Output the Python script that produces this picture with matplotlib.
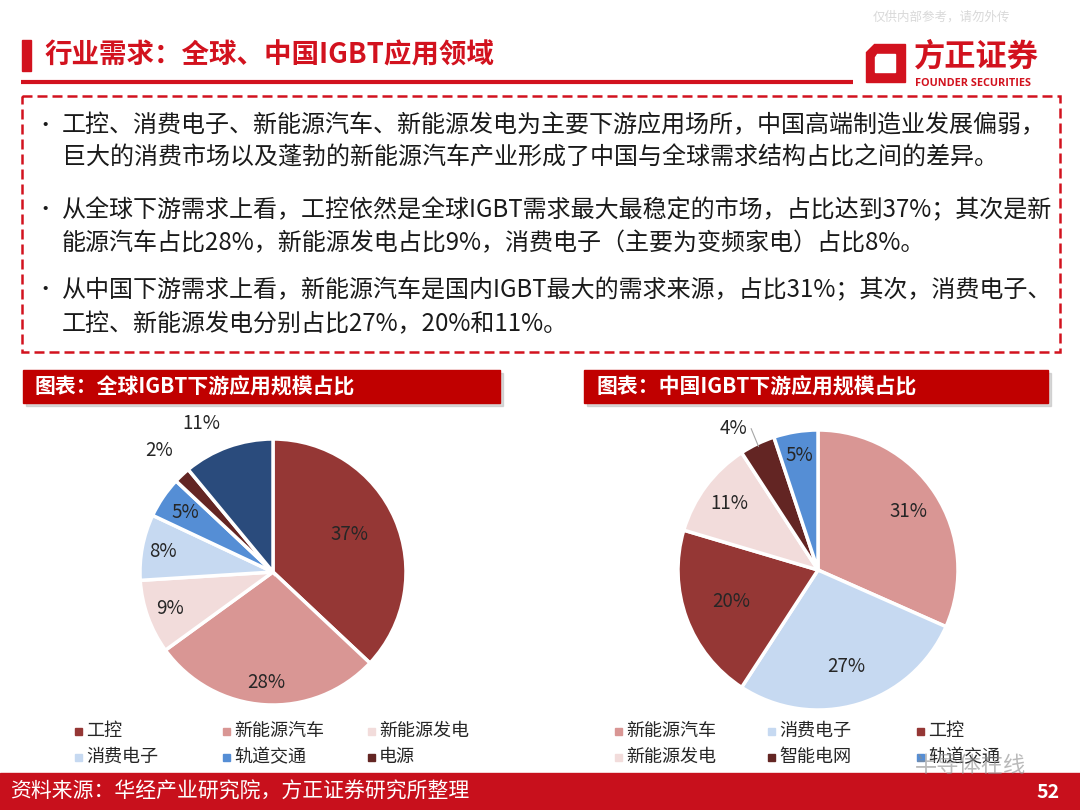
import numpy as np
import matplotlib
matplotlib.use('Agg')
import matplotlib.pyplot as plt
from matplotlib.patches import Rectangle, Polygon

plt.rcParams['font.family'] = ['Noto Sans CJK SC', 'DejaVu Sans']

#Data
globalNames = ['工控', '新能源汽车', '新能源发电', '消费电子', '轨道交通', '电源', '其他']
globalShares = [37, 28, 9, 8, 5, 2, 11]
globalLabels = ['37%', '28%', '9%', '8%', '5%', '2%', '11%']
chinaNames = ['新能源汽车', '消费电子', '工控', '新能源发电', '智能电网', '轨道交通']
chinaShares = [31, 27, 20, 11, 4, 5]
chinaLabels = ['31%', '27%', '20%', '11%', '4%', '5%']

#Colors per category
colorOf = {'工控': '#953735', '新能源汽车': '#D99694', '新能源发电': '#F2DCDB',
           '消费电子': '#C6D9F1', '轨道交通': '#558ED5', '电源': '#632523',
           '智能电网': '#632523', '其他': '#2A4B7C'}

titleText = '行业需求：全球、中国IGBT应用领域'
bullets = [
    ['工控、消费电子、新能源汽车、新能源发电为主要下游应用场所，中国高端制造业发展偏弱，',
     '巨大的消费市场以及蓬勃的新能源汽车产业形成了中国与全球需求结构占比之间的差异。'],
    ['从全球下游需求上看，工控依然是全球IGBT需求最大最稳定的市场，占比达到37%；其次是新',
     '能源汽车占比28%，新能源发电占比9%，消费电子（主要为变频家电）占比8%。'],
    ['从中国下游需求上看，新能源汽车是国内IGBT最大的需求来源，占比31%；其次，消费电子、',
     '工控、新能源发电分别占比27%，20%和11%。'],
]
leftTitle = '图表：全球IGBT下游应用规模占比'
rightTitle = '图表：中国IGBT下游应用规模占比'
sourceText = '资料来源：华经产业研究院，方正证券研究所整理'
pageNo = '52'

RED = '#D2121E'
DARKRED = '#C00000'

fig = plt.figure(figsize=(10.8, 8.1), dpi=100)
fig.patch.set_facecolor('white')

#Overlay in pixel coordinates
bg = fig.add_axes([0, 0, 1, 1])
bg.set_xlim(0, 1080)
bg.set_ylim(810, 0)
bg.axis('off')

#Header
bg.text(1010, 17, '仅供内部参考，请勿外传', color='#D9D9D9', fontsize=9, ha='right', va='center')
bg.add_patch(Rectangle((22, 40), 9, 31, color=RED))
bg.text(45, 56, titleText, color=RED, fontsize=19.8, fontweight='bold', va='center')
bg.plot([21, 853], [82, 82], color=RED, lw=3, solid_capstyle='butt')

#Logo
bg.add_patch(Polygon([(874, 44), (905, 44), (905, 82), (866, 82), (866, 52)], closed=True, color=RED))
bg.add_patch(Polygon([(877, 54), (895, 54), (895, 72), (875, 72), (875, 57)], closed=True, color='white'))
bg.text(914, 57, '方正证券', color=RED, fontsize=22.5, fontweight='bold', va='center')
bg.text(915, 83, 'FOUNDER SECURITIES', color=RED, fontsize=7.8, fontweight='bold', va='center',
        family=['Open Sans', 'DejaVu Sans'])

#Dashed text box
bg.add_patch(Rectangle((22, 96), 1038, 256, fill=False, edgecolor=RED, lw=1.8, ls=(0, (4, 2))))
lineY = [[125, 158], [210, 243], [290, 324]]
for para, ys in zip(bullets, lineY):
    bg.text(35, ys[0], '•', fontsize=14, va='center', color='#1a1a1a')
    for line, yy in zip(para, ys):
        bg.text(62, yy, line, fontsize=17.3, va='center', color='#1a1a1a')

#Chart title bars
for (x0, x1, label) in [(23, 500, leftTitle), (584, 1048, rightTitle)]:
    bg.add_patch(Rectangle((x0 + 3, 373), x1 - x0, 33, color='#BFBFBF', alpha=0.6))
    bg.add_patch(Rectangle((x0, 370), x1 - x0, 33, color=DARKRED))
    bg.text(x0 + 12, 387, label, color='white', fontsize=15, fontweight='bold', va='center')

#Footer
bg.add_patch(Rectangle((0, 773), 1080, 37, color='#C8101C'))
bg.text(10, 792, sourceText, color='white', fontsize=15, va='center')
bg.text(1060, 792, pageNo, color='white', fontsize=14, fontweight='bold', va='center', ha='right')


def draw_pie(cx, cy, r, shares, names, labels, dists, shifts, leader=None):
    ax = fig.add_axes([(cx - r) / 1080, (810 - cy - r) / 810, 2 * r / 1080, 2 * r / 810])
    wedges, _ = ax.pie(shares, colors=[colorOf[n] for n in names], startangle=90,
                       counterclock=False, radius=1,
                       wedgeprops=dict(edgecolor='white', linewidth=2.5))
    ax.set_xlim(-1, 1)
    ax.set_ylim(-1, 1)
    ax.axis('off')
    for i, w in enumerate(wedges):
        ang = np.deg2rad((w.theta1 + w.theta2) / 2 + shifts[i])
        d = dists[i]
        if leader is not None and i == leader:
            ax.plot([np.cos(ang) * 0.98, np.cos(ang) * 1.1], [np.sin(ang) * 0.98, np.sin(ang) * 1.12],
                    color='#A6A6A6', lw=0.8, clip_on=False)
            ax.text(np.cos(ang) * 1.1 - 0.03, np.sin(ang) * 1.12, labels[i], ha='right', va='center',
                    fontsize=13.5, color='#262626')
        else:
            ax.text(np.cos(ang) * d, np.sin(ang) * d, labels[i], ha='center', va='center',
                    fontsize=13.5, color='#262626')
    return ax


draw_pie(273, 572, 133, globalShares, globalNames, globalLabels,
         [0.64, 0.83, 0.82, 0.84, 0.8, 1.25, 1.24], [3, 0, 0, 0, 0, 0, 6])
draw_pie(818, 570, 140, chinaShares, chinaNames, chinaLabels,
         [0.77, 0.72, 0.66, 0.79, 1.2, 0.83], [0, 0, 0, 0, 0, 0], leader=4)


#Legends drawn by hand
def draw_legend(names, xs, ys):
    for i, n in enumerate(names):
        x = xs[i % 3]
        y = ys[i // 3]
        bg.add_patch(Rectangle((x - 3.5, y - 3.5), 7, 7, color=colorOf[n]))
        bg.text(x + 8, y, n, fontsize=13, va='center', color='#262626')


draw_legend(globalNames[:6], [78, 226, 371], [731, 757])
draw_legend(chinaNames, [618, 771, 920], [731, 757])

#Watermark
bg.text(915, 765, '半导体在线', color='#8C8C8C', fontsize=16, va='center', alpha=0.6)

fig.savefig('out.png', dpi=100)
